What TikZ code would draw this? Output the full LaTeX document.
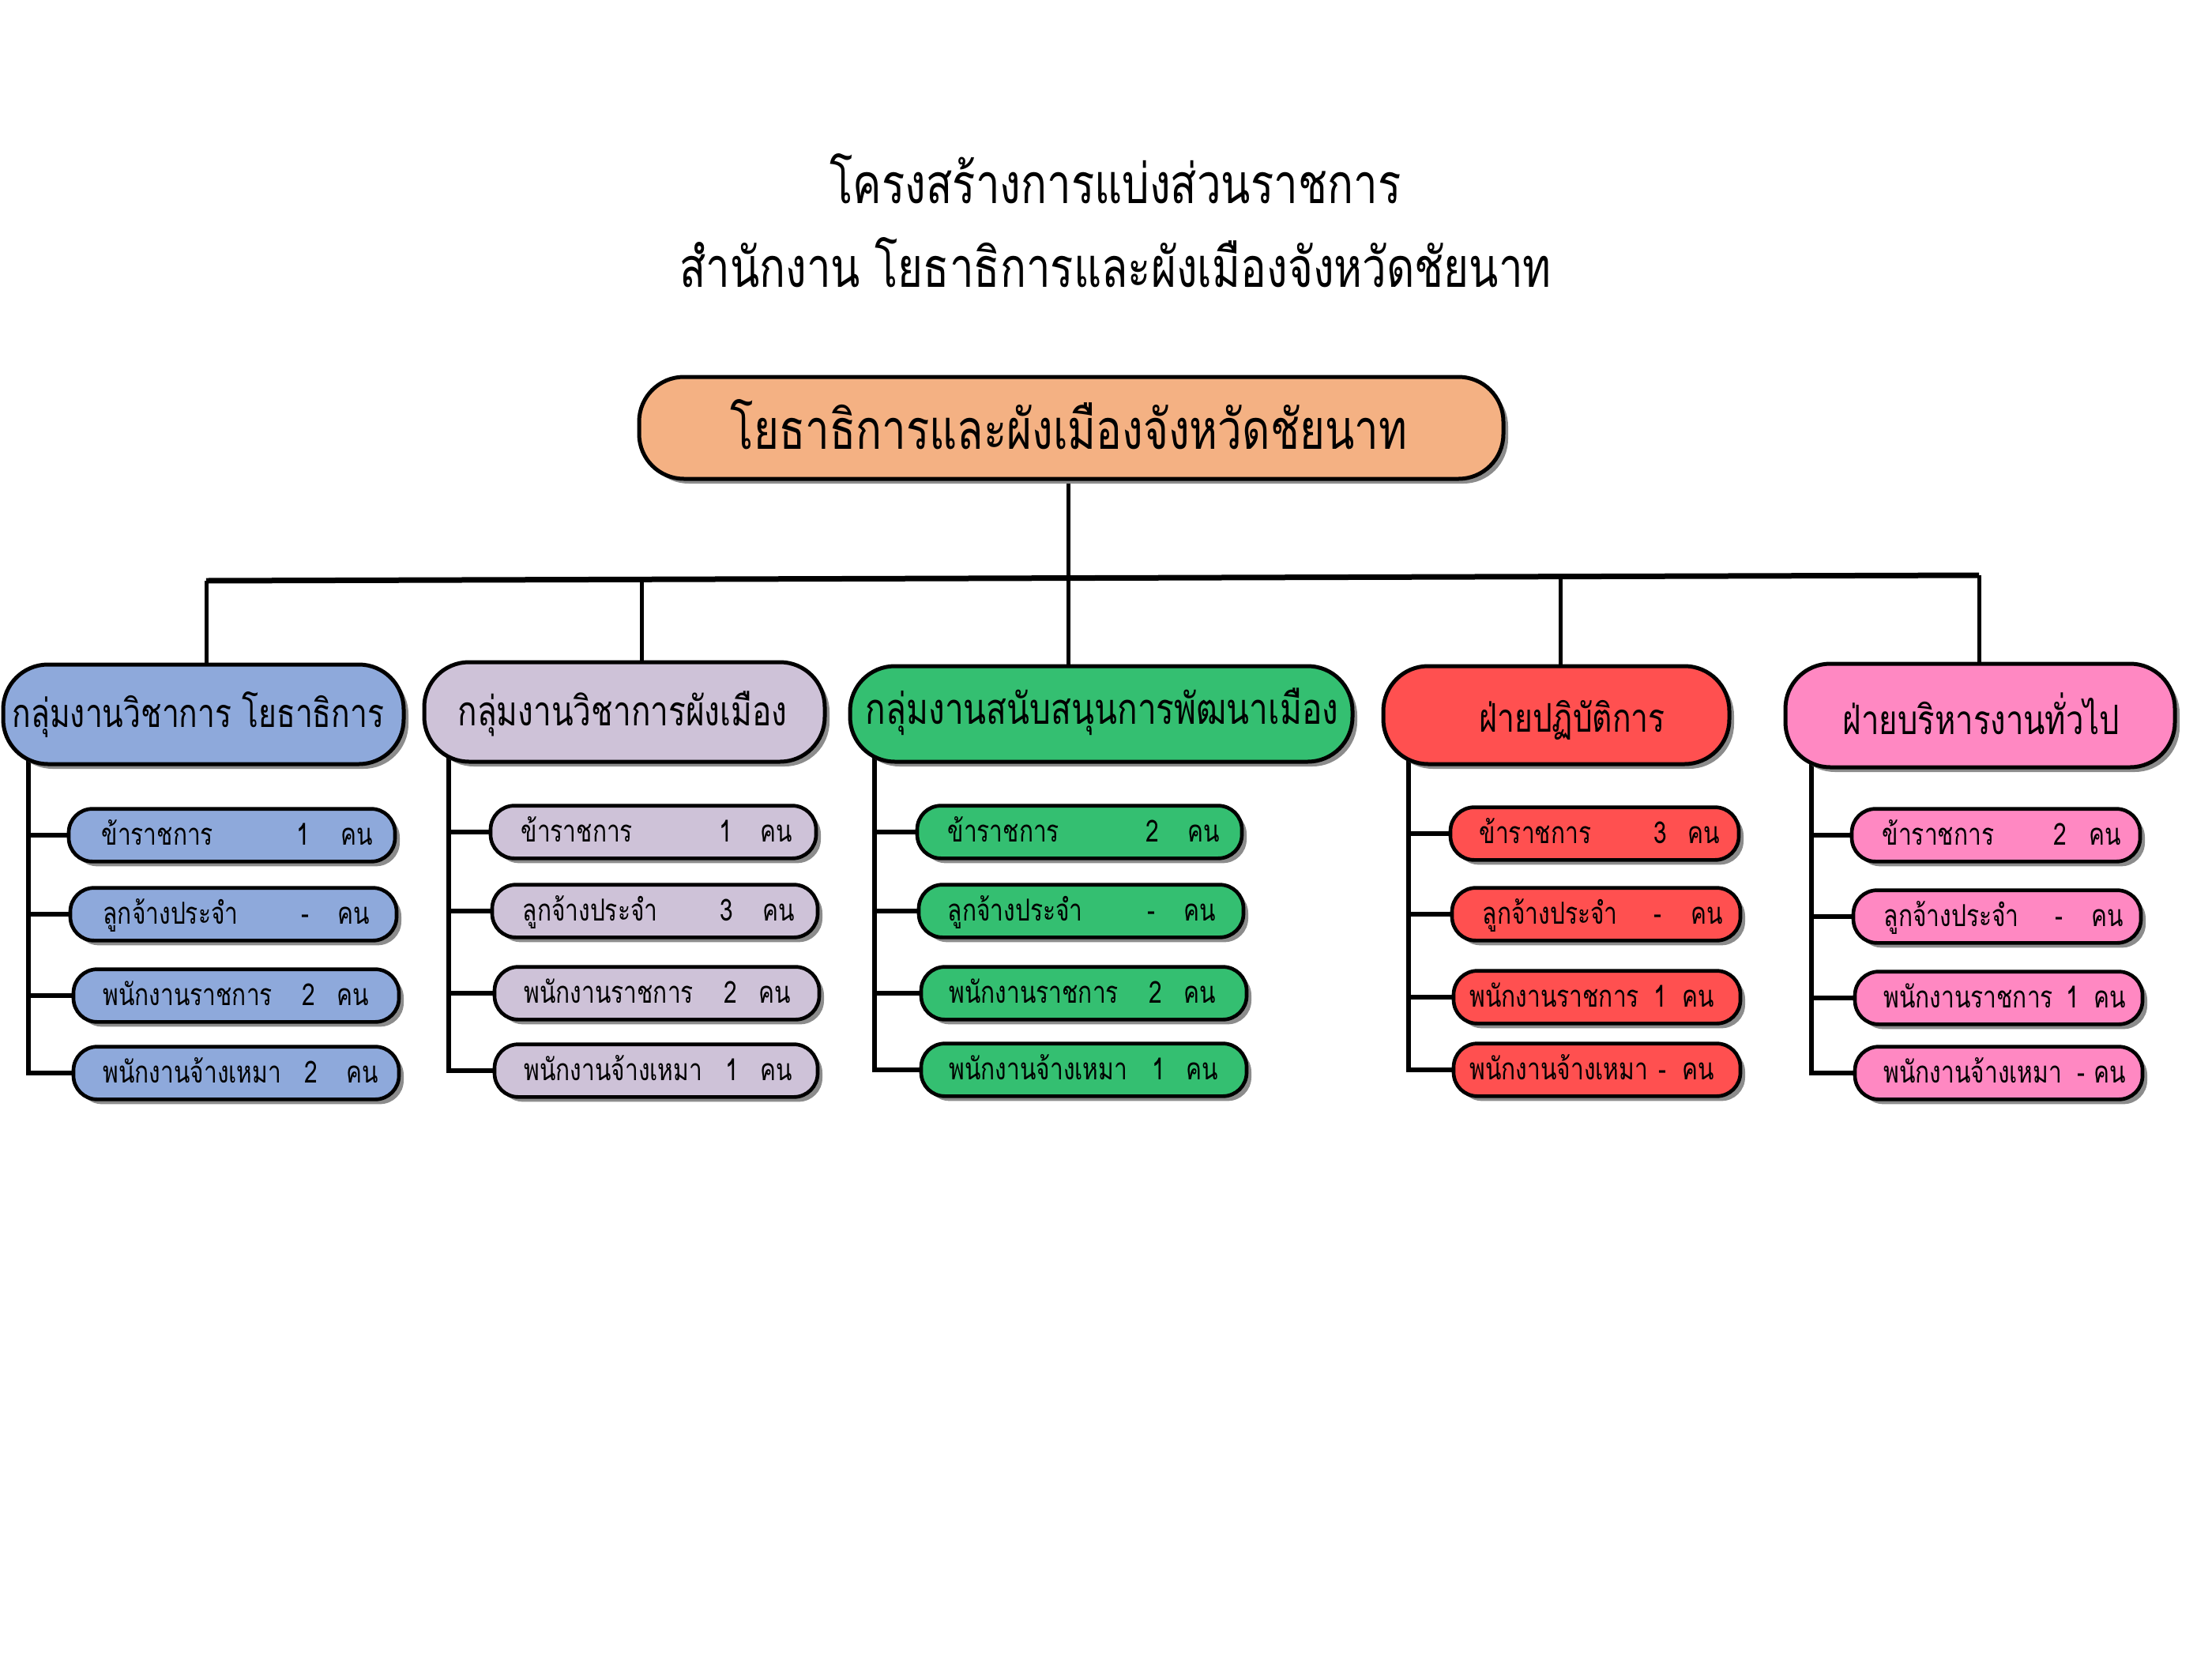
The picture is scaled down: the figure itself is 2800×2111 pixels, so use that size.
\documentclass[tikz,border=0pt]{standalone}
\usepackage{fontspec}
\newfontfamily\thai[Script=Thai,FakeStretch=0.78]{Loma}
\usetikzlibrary{shadows}
\definecolor{topc}{RGB}{244,177,131}
\definecolor{bluec}{RGB}{142,169,219}
\definecolor{lavc}{RGB}{206,194,216}
\definecolor{greenc}{RGB}{52,191,113}
\definecolor{redc}{RGB}{255,80,80}
\definecolor{pinkc}{RGB}{255,136,194}
\pgfdeclarelayer{background}
\pgfsetlayers{background,main}
\tikzset{
  shad/.style={drop shadow={shadow xshift=1.8pt,shadow yshift=-1.8pt,fill=black!45,opacity=1}},
  hdrbox/.style={draw=black,line width=1.5pt,rounded corners=17pt,inner sep=0pt,shad},
  subbox/.style={draw=black,line width=1.4pt,rounded corners=9pt,inner sep=0pt,minimum height=20pt,shad},
  ttxt/.style={inner sep=0pt,font=\thai\fontsize{21}{25}\selectfont},
  toptxt/.style={inner sep=0pt,font=\thai\fontsize{21}{25}\selectfont},
  htxt/.style={inner sep=0pt,font=\thai\fontsize{15}{18}\selectfont},
  stxt/.style={inner sep=0pt,font=\thai\fontsize{11.5}{14}\selectfont},
  mainline/.style={line width=2.1pt},
  dropline/.style={line width=1.5pt},
  vline/.style={line width=1.7pt},
  hline/.style={line width=1.9pt,line cap=rect},
}
\newcommand\boxat[7]{\node[#6,fill=#7,minimum width={(#4-#2)*0.3pt},minimum height={(#5-#3)*0.3pt}] (#1) at ({(#2+#4)/2},{(#3+#5)/2}) {};}
\newcommand\subbx[5]{\node[subbox,fill=#5,minimum width={(#3-#2)*0.3pt}] (#1) at ({(#2+#3)/2},#4) {};}
\newcommand\subtx[7]{%
  \node[stxt,anchor=base west] (#1l) at (#4,#2+12) {#3};
  \node[stxt,anchor=base] (#1n) at (#6,#2+12) {#5};
  \node[stxt,anchor=base west] (#1k) at (#7,#2+12) {คน};}
\begin{document}
\begin{tikzpicture}[x=0.3pt,y=-0.3pt]
\useasboundingbox (0,0) rectangle (2800,2111);
% titles
\node[ttxt,anchor=base] (t1) at (1412,257) {โครงสร้างการแบ่งส่วนราชการ};
\node[ttxt,anchor=base] (t2) at (1412,363) {สำนักงาน โยธาธิการและผังเมืองจังหวัดชัยนาท};
% top box
\boxat{top}{809}{477}{1903}{606}{hdrbox}{topc}
\node[toptxt,anchor=base] (toptext) at (1353,568) {โยธาธิการและผังเมืองจังหวัดชัยนาท};
% group headers
\boxat{gb}{4}{841}{511}{967}{hdrbox}{bluec}
\boxat{gl}{537}{838}{1044}{964}{hdrbox}{lavc}
\boxat{gg}{1076}{843}{1712}{964}{hdrbox}{greenc}
\boxat{gr}{1751}{843}{2189}{967}{hdrbox}{redc}
\boxat{gp}{2260}{840}{2753}{971}{hdrbox}{pinkc}
\node[htxt,anchor=base] (tgb) at (251,920) {กลุ่มงานวิชาการ โยธาธิการ};
\node[htxt,anchor=base,font=\thai\fontsize{15.6}{18}\selectfont] (tgl) at (788,918) {กลุ่มงานวิชาการผังเมือง};
\node[htxt,anchor=base,font=\thai\fontsize{16.3}{19}\selectfont] (tgg) at (1395,916) {กลุ่มงานสนับสนุนการพัฒนาเมือง};
\node[htxt,anchor=base] (tgr) at (1990,926) {ฝ่ายปฏิบัติการ};
\node[htxt,anchor=base,font=\thai\fontsize{15.4}{18}\selectfont] (tgp) at (2508,929) {ฝ่ายบริหารงานทั่วไป};
% blue subs
\subbx{b1}{87}{500}{1057}{bluec}
\subbx{b2}{89}{502}{1157}{bluec}
\subbx{b3}{93}{505}{1260}{bluec}
\subbx{b4}{93}{505}{1358}{bluec}
\subtx{b1}{1057}{ข้าราชการ}{128}{1}{384}{431}
\subtx{b2}{1157}{ลูกจ้างประจำ}{130}{-}{386}{427}
\subtx{b3}{1260}{พนักงานราชการ}{130}{2}{391}{426}
\subtx{b4}{1358}{พนักงานจ้างเหมา}{130}{2}{394}{438}
% lavender subs
\subbx{l1}{621}{1033}{1053}{lavc}
\subbx{l2}{623}{1035}{1153}{lavc}
\subbx{l3}{626}{1037}{1257}{lavc}
\subbx{l4}{626}{1035}{1355}{lavc}
\subtx{l1}{1053}{ข้าราชการ}{659}{1}{919}{962}
\subtx{l2}{1153}{ลูกจ้างประจำ}{661}{3}{920}{965}
\subtx{l3}{1257}{พนักงานราชการ}{663}{2}{925}{960}
\subtx{l4}{1355}{พนักงานจ้างเหมา}{663}{1}{927}{962}
% green subs
\subbx{g1}{1161}{1572}{1053}{greenc}
\subbx{g2}{1163}{1574}{1153}{greenc}
\subbx{g3}{1166}{1578}{1257}{greenc}
\subbx{g4}{1166}{1578}{1354}{greenc}
\subtx{g1}{1053}{ข้าราชการ}{1199}{2}{1459}{1503}
\subtx{g2}{1153}{ลูกจ้างประจำ}{1199}{-}{1457}{1498}
\subtx{g3}{1257}{พนักงานราชการ}{1201}{2}{1463}{1498}
\subtx{g4}{1354}{พนักงานจ้างเหมา}{1201}{1}{1467}{1501}
% red subs
\subbx{r1}{1836}{2201}{1055}{redc}
\subbx{r2}{1838}{2203}{1157}{redc}
\subbx{r3}{1840}{2203}{1262}{redc}
\subbx{r4}{1840}{2203}{1354}{redc}
\subtx{r1}{1055}{ข้าราชการ}{1872}{3}{2102}{2136}
\subtx{r2}{1157}{ลูกจ้างประจำ}{1876}{-}{2098}{2140}
\subtx{r3}{1262}{พนักงานราชการ}{1860}{1}{2102}{2129}
\subtx{r4}{1354}{พนักงานจ้างเหมา}{1860}{-}{2104}{2129}
% pink subs
\subbx{p1}{2344}{2709}{1057}{pinkc}
\subbx{p2}{2346}{2710}{1160}{pinkc}
\subbx{p3}{2348}{2712}{1263}{pinkc}
\subbx{p4}{2348}{2712}{1358}{pinkc}
\subtx{p1}{1057}{ข้าราชการ}{2382}{2}{2608}{2644}
\subtx{p2}{1160}{ลูกจ้างประจำ}{2384}{-}{2606}{2647}
\subtx{p3}{1263}{พนักงานราชการ}{2384}{1}{2624}{2650}
\subtx{p4}{1358}{พนักงานจ้างเหมา}{2384}{-}{2634}{2650}
% connectors
\coordinate (hl) at (261,735);
\coordinate (hr) at (2505,728);
\coordinate (dl) at (812,733.4);
\coordinate (dg) at (1352,731.6);
\coordinate (dr) at (1975,729.6);
\coordinate (vb) at (36,950);
\coordinate (vl) at (568,950);
\coordinate (vg) at (1107,950);
\coordinate (vr) at (1783,950);
\coordinate (vp) at (2293,950);
\begin{pgfonlayer}{background}
\draw[mainline] (hl) -- (hr);
\draw[dropline] (dg |- top.south) -- (dg);
\draw[dropline] (hl) -- (hl |- gb.north);
\draw[dropline] (dl) -- (dl |- gl.north);
\draw[dropline] (dg) -- (dg |- gg.north);
\draw[dropline] (dr) -- (dr |- gr.north);
\draw[dropline] (hr) -- (hr |- gp.north);
\foreach \v/\p in {vb/b,vl/l,vg/g,vr/r,vp/p}{
  \draw[vline] (\v) -- (\v |- \p4.west);
  \foreach \i in {1,2,3,4}{\draw[hline] (\v |- \p\i.west) -- (\p\i.west);}
}
\end{pgfonlayer}
\end{tikzpicture}
\end{document}
